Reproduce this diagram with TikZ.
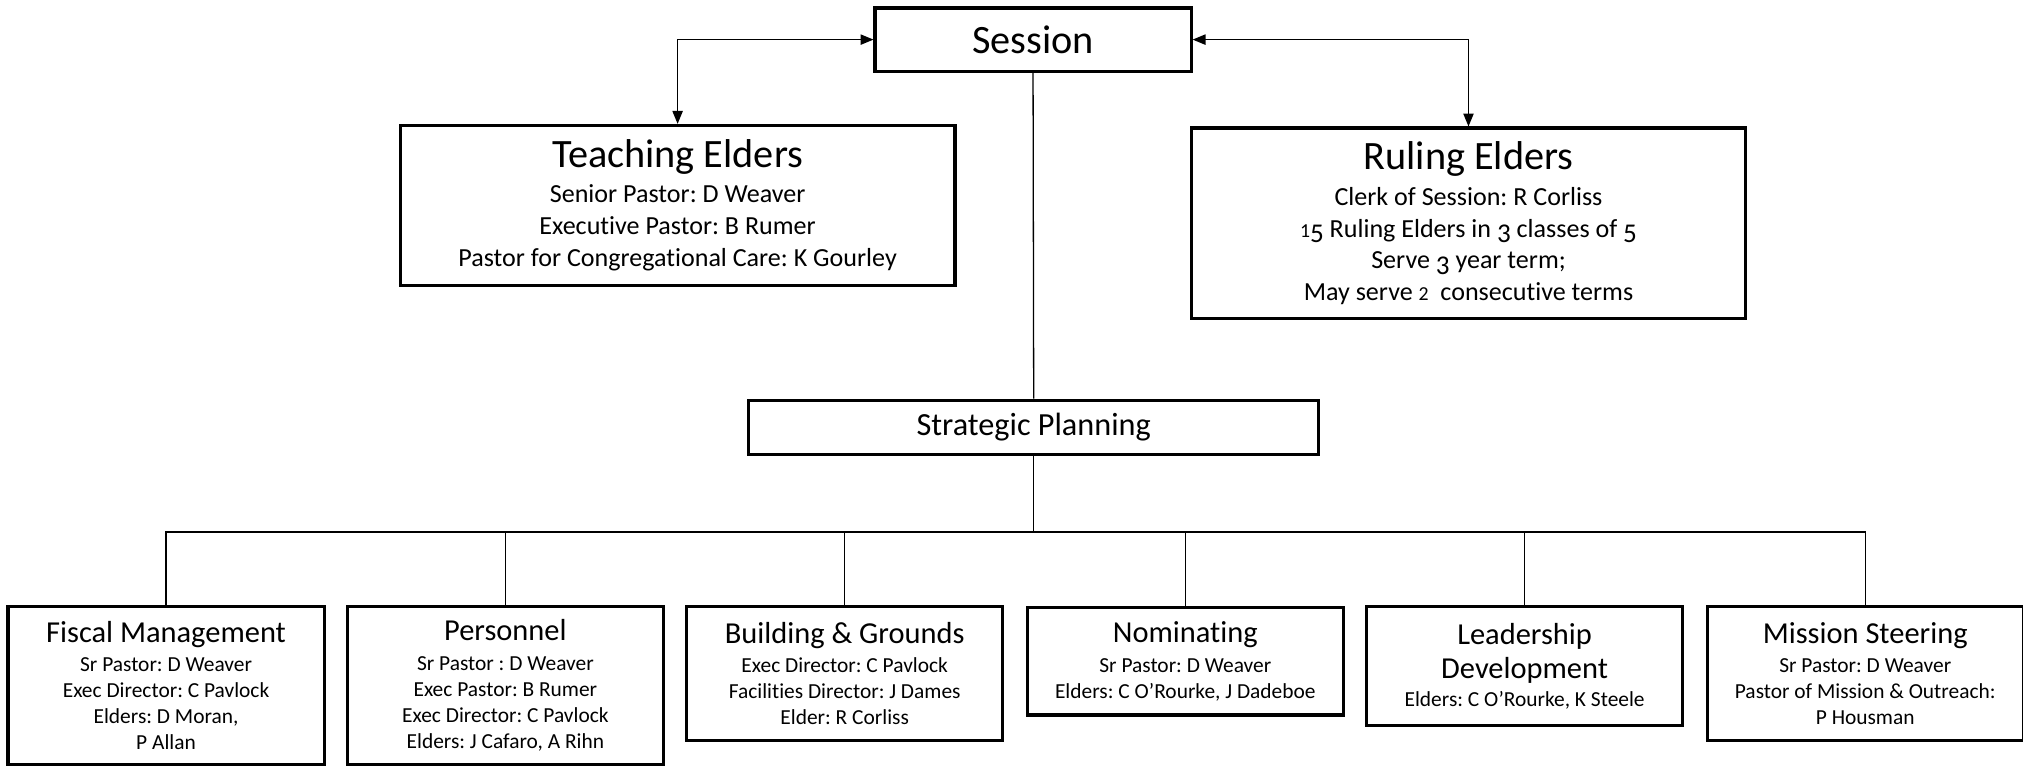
\documentclass[tikz,border=0pt]{standalone}
\usepackage{fontspec}
\setmainfont{Carlito}[Ligatures=NoCommon]
\usetikzlibrary{arrows.meta}
\frenchspacing
\begin{document}
\begin{tikzpicture}[x=0.5pt,y=-0.5pt,
  box/.style={draw, line width=1.2pt, rectangle, inner sep=0pt, align=center, anchor=north west, text=black},
  topbox/.style={box, font=\frenchspacing\fontsize{10.1}{12.35}\selectfont},
  subbox/.style={box, minimum width=122.5pt, font=\frenchspacing\fontsize{8.3}{10.1}\selectfont},
  conn/.style={line width=0.5pt},
  twoway/.style={line width=0.5pt, {Triangle[length=5pt,width=4pt]}-{Triangle[length=5pt,width=4pt]}}]
\useasboundingbox (0,0) rectangle (1568,593);
\newcommand{\ttl}[1]{{\fontsize{15.6}{15.6}\selectfont #1}}
\newcommand{\sttl}[1]{{\fontsize{11.8}{11.8}\selectfont #1}}
\newcommand{\osx}[1]{\scalebox{0.76}{#1}}
\newcommand{\osd}[1]{\raisebox{-0.2em}{\scalebox{1.04}{#1}}}

\node[box, minimum width=122.5pt, minimum height=24.5pt, font=\fontsize{15.6}{18}\selectfont] (session) at (677,5) {Session};

\node[topbox, minimum width=215pt, minimum height=62pt] (teach) at (309,96)
  {\ttl{Teaching Elders}\\[1.3pt]
   Senior Pastor: D Weaver\\
   Executive Pastor: B Rumer\\
   Pastor for Congregational Care: K Gourley};

\node[topbox, minimum width=215pt, minimum height=74pt] (rule) at (922,98)
  {\ttl{Ruling Elders}\\[1.3pt]
   Clerk of Session: R Corliss\\
   \osx{1}\osd{5} Ruling Elders in \osd{3} classes of \osd{5}\\
   Serve \osd{3} year term;\\
   May serve \osx{2}~ consecutive terms};

\node[box, minimum width=221pt, minimum height=21pt, font=\fontsize{12.5}{15}\selectfont] (strat) at (579,309) {Strategic Planning};

\node[subbox, minimum height=61pt] (fiscal) at (5,469)
  {\sttl{Fiscal Management}\\[1.2pt]
   Sr Pastor: D Weaver\\
   Exec Director: C Pavlock\\
   Elders: D Moran,\\
   P Allan};

\node[subbox, minimum height=61pt] (personnel) at (268,469)
  {\sttl{Personnel}\\[1.2pt]
   Sr Pastor : D Weaver\\
   Exec Pastor: B Rumer\\
   Exec Director: C Pavlock\\
   Elders: J Cafaro, A Rihn};

\node[subbox, minimum height=52pt] (build) at (531,469)
  {\sttl{Building \& Grounds}\\[1.2pt]
   Exec Director: C Pavlock\\
   Facilities Director: J Dames\\
   Elder: R Corliss};

\node[subbox, minimum height=41.5pt] (nom) at (795,470)
  {\sttl{Nominating}\\[1.2pt]
   Sr Pastor: D Weaver\\
   Elders: C O’Rourke, J Dadeboe};

\node[subbox, minimum height=46pt] (lead) at (1058,469)
  {\sttl{Leadership}\\[3pt]
   \sttl{Development}\\[0.7pt]
   Elders: C O’Rourke, K Steele};

\node[subbox, minimum height=52pt] (mission) at (1322,469)
  {\sttl{Mission Steering}\\[1.2pt]
   Sr Pastor: D Weaver\\
   Pastor of Mission \& Outreach:\\
   P Housman};

\draw[twoway] (teach.north) |- (session.west);
\draw[twoway] (rule.north) |- (session.east);
\draw[conn] (session.south) -- (strat.north);
\path (strat.south) ++(0,59) coordinate (bus);
\draw[conn] (strat.south) -- (bus);
\foreach \c in {fiscal,personnel,build,nom,lead,mission}
  \draw[conn] (bus) -| (\c.north);
\end{tikzpicture}
\end{document}
